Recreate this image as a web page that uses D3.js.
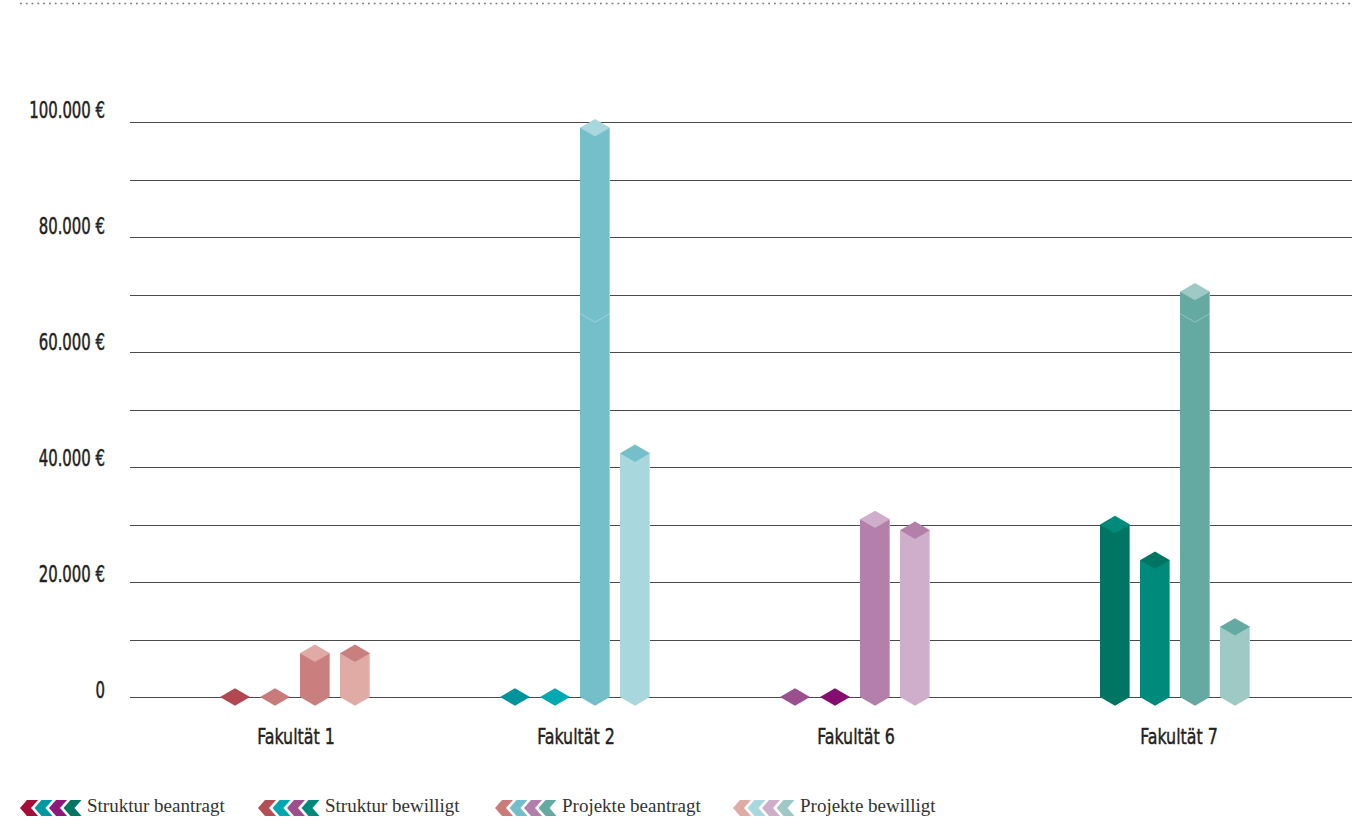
<!DOCTYPE html>
<html><head><meta charset="utf-8">
<script src="https://cdn.jsdelivr.net/npm/d3@7"></script>
<style>
html,body{margin:0;padding:0;background:#fff;}
svg{display:block;}
</style></head>
<body>
<svg id="chart" width="1370" height="818"></svg>
<script>
const categories = ["Fakultät 1", "Fakultät 2", "Fakultät 6", "Fakultät 7"];
const series = ["Struktur beantragt", "Struktur bewilligt", "Projekte beantragt", "Projekte bewilligt"];
const strukturBeantragt = [0, 0, 0, 30000];
const strukturBewilligt = [0, 0, 0, 23800];
const projekteBeantragt = [7600, 99000, 30900, 70500];
const projekteBewilligt = [7600, 42400, 29000, 12200];
const projekteBeantragtJoint = [null, 66700, null, 66700];
const gridTicks = [0, 10000, 20000, 30000, 40000, 50000, 60000, 70000, 80000, 90000, 100000];
const labelTicks = [0, 20000, 40000, 60000, 80000, 100000];
const tickLabels = ["0", "20.000 €", "40.000 €", "60.000 €", "80.000 €", "100.000 €"];

// colours per faculty: [Struktur beantragt, Struktur bewilligt, Projekte beantragt, Projekte bewilligt]
const bodyColors = [
  ["#b2474f", "#c97a7a", "#c97f7d", "#e0aaa5"],
  ["#00939d", "#00a8b2", "#74bfc9", "#a8d7dd"],
  ["#9b4f8f", "#850d6f", "#b37fab", "#cfaecb"],
  ["#007563", "#008a7c", "#64aaa2", "#9fc9c4"]
];
const capColors = [
  ["#b2474f", "#c97a7a", "#e0aaa5", "#c97f7d"],
  ["#00939d", "#00a8b2", "#a8d7dd", "#74bfc9"],
  ["#9b4f8f", "#850d6f", "#cfaecb", "#b37fab"],
  ["#008a7c", "#007563", "#9fc9c4", "#64aaa2"]
];
const legendColors = [
  ["#a50d3a", "#0099a0", "#8b1a7c", "#007563"],
  ["#b34f55", "#00a7b0", "#9b4f8f", "#00897b"],
  ["#c97d7b", "#73bec8", "#b17fab", "#64aaa2"],
  ["#e0aaa5", "#a8d7dd", "#cfaecb", "#9fc9c4"]
];

const values = [strukturBeantragt, strukturBewilligt, projekteBeantragt, projekteBewilligt];

const svg = d3.select("#chart");
const y = d3.scaleLinear().domain([0, 100000]).range([697, 122]);
const yLabel = d3.scaleLinear().domain([0, 100000]).range([690, 110]);
const x0 = d3.scaleOrdinal().domain(categories).range([295, 575, 855, 1175]);
const x1 = d3.scaleBand().domain(series).range([-75, 75]).paddingInner(0.25);
const bw = x1.bandwidth();
const hw = bw / 2;
const capH = 8.7;
const condFont = "'DejaVu Sans Condensed','DejaVu Sans',sans-serif";

// top dotted rule
svg.append("line").attr("x1", 20).attr("x2", 1354).attr("y1", 3.5).attr("y2", 3.5)
  .attr("stroke", "#777").attr("stroke-width", 1.6).attr("stroke-dasharray", "1.8 4");

// grid
svg.append("g").selectAll("line").data(gridTicks).join("line")
  .attr("x1", 130).attr("x2", 1352)
  .attr("y1", d => Math.round(y(d)) + 0.5).attr("y2", d => Math.round(y(d)) + 0.5)
  .attr("stroke", "#4a4a4a").attr("stroke-width", 1);

// y labels
svg.append("g").selectAll("text").data(labelTicks).join("text")
  .attr("transform", d => `translate(105,${yLabel(d)}) scale(0.72,1)`)
  .attr("dy", "0.36em").attr("text-anchor", "end")
  .attr("font-family", condFont)
  .attr("font-size", 23).attr("fill", "#222")
  .attr("stroke", "#222").attr("stroke-width", 0.5)
  .text((d, i) => tickLabels[i]);

// bars
const barData = [];
categories.forEach((c, ci) => {
  series.forEach((s, si) => {
    barData.push({c, ci, s, si, v: values[si][ci]});
  });
});

const gBars = svg.append("g");
barData.forEach(d => {
  const cx = x0(d.c) + x1(d.s) + hw;
  const yt = y(d.v), yb = y(0);
  if (d.v > 0) {
    gBars.append("path")
      .attr("d", `M${cx - hw},${yt}L${cx + hw},${yt}L${cx + hw},${yb}L${cx},${yb + capH}L${cx - hw},${yb}Z`)
      .attr("fill", bodyColors[d.ci][d.si]);
    gBars.append("line").attr("x1", cx + hw - 0.5).attr("x2", cx + hw - 0.5)
      .attr("y1", yt).attr("y2", yb).attr("stroke", "#fff").attr("stroke-opacity", 0.35).attr("stroke-width", 1);
  }
  gBars.append("path")
    .attr("d", `M${cx - hw},${yt}L${cx},${yt - capH}L${cx + hw},${yt}L${cx},${yt + capH}Z`)
    .attr("fill", capColors[d.ci][d.si]);
  if (d.si === 2 && projekteBeantragtJoint[d.ci] != null) {
    const yj = y(projekteBeantragtJoint[d.ci]);
    gBars.append("path")
      .attr("d", `M${cx - hw},${yj}L${cx},${yj + capH}L${cx + hw},${yj}`)
      .attr("fill", "none").attr("stroke", "#fff").attr("stroke-opacity", 0.3).attr("stroke-width", 1);
  }
});

// category labels
svg.append("g").selectAll("text").data(categories).join("text")
  .attr("transform", d => `translate(${x0(d) + (d === "Fakultät 7" ? 4 : 1)},736) scale(0.8,1)`)
  .attr("dy", "0.36em").attr("text-anchor", "middle")
  .attr("font-family", condFont)
  .attr("font-size", 22).attr("fill", "#222")
  .attr("stroke", "#222").attr("stroke-width", 0.45)
  .text(d => d);

// legend
const legendX = [20, 258, 495, 733];
const lg = svg.append("g");
series.forEach((s, si) => {
  const g = lg.append("g").attr("transform", `translate(${legendX[si]},808)`);
  legendColors[si].forEach((col, k) => {
    const ox = k * 14.5;
    g.append("path")
      .attr("d", `M${ox},0L${ox + 7},-8L${ox + 18},-8L${ox + 11},0L${ox + 18},8L${ox + 7},8Z`)
      .attr("fill", col);
  });
  g.append("text").attr("x", 67).attr("y", -2).attr("dy", "0.3em")
    .attr("font-family", "'Liberation Serif','DejaVu Serif',serif")
    .attr("font-size", 19).attr("fill", "#333").text(s);
});
</script>
</body></html>
